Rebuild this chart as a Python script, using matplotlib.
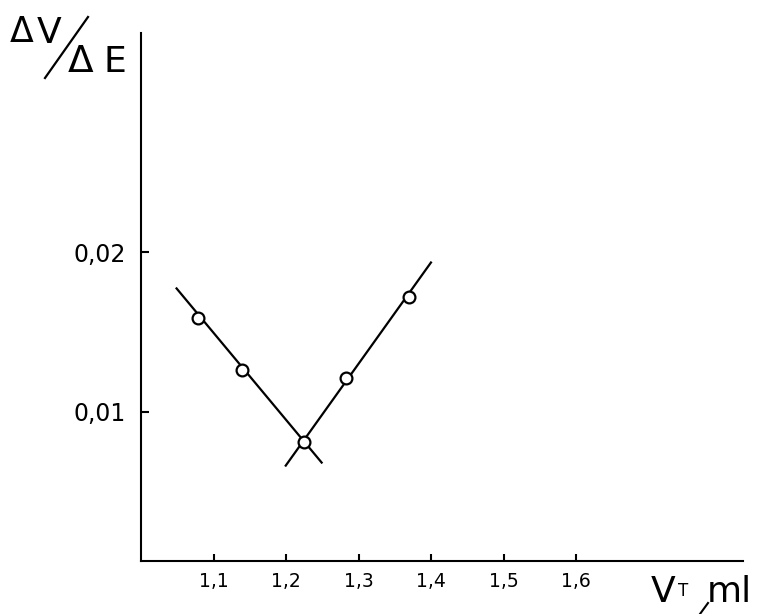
import matplotlib.pyplot as plt
from matplotlib.lines import Line2D

# measured points: titrant volume (ml) vs dV/dE
volumes = [1.078, 1.139, 1.224, 1.283, 1.370]
slopes = [0.01585, 0.01258, 0.00811, 0.01208, 0.01717]

# the two straight branches drawn through the points
left_x = [1.049, 1.249]
left_y = [0.01774, 0.00679]
right_x = [1.1995, 1.3997]
right_y = [0.0066, 0.01937]

x_ticks = [1.1, 1.2, 1.3, 1.4, 1.5, 1.6]
x_labels = ['1,1', '1,2', '1,3', '1,4', '1,5', '1,6']
y_ticks = [0.01, 0.02]
y_labels = ['0,01', '0,02']

fig = plt.figure(figsize=(7.57, 6.14), dpi=100)
ax = fig.add_axes([0.1863, 0.0863, 0.7953, 0.8599])

ax.plot(left_x, left_y, color='black', lw=1.6, zorder=2)
ax.plot(right_x, right_y, color='black', lw=1.6, zorder=2)
ax.plot(volumes, slopes, 'o', ms=8.5, mfc='white', mec='black', mew=1.6,
        zorder=3, clip_on=False)

ax.set_xlim(1.0, 1.83)
ax.set_ylim(0.0006, 0.0338)

for side in ['top', 'right']:
    ax.spines[side].set_visible(False)
for side in ['left', 'bottom']:
    ax.spines[side].set_linewidth(1.5)

ax.set_xticks(x_ticks)
ax.set_xticklabels(x_labels, fontsize=13.5)
ax.set_yticks(y_ticks)
ax.set_yticklabels(y_labels, fontsize=17)
ax.tick_params(axis='x', direction='in', length=5, width=1.5, pad=8)
ax.tick_params(axis='y', direction='in', length=6, width=1.5, pad=11)

# axis names
fig.text(10 / 757, 1 - 42 / 614, '\u0394', fontsize=25, ha='left', va='baseline')
fig.text(37 / 757, 1 - 43 / 614, 'V', fontsize=26, ha='left', va='baseline')
fig.lines.append(Line2D([45 / 757, 88 / 757], [1 - 78 / 614, 1 - 17 / 614],
                        transform=fig.transFigure, color='black', lw=1.6))
fig.text(68 / 757, 1 - 72 / 614, '\u0394', fontsize=27, ha='left', va='baseline')
fig.text(103 / 757, 1 - 72 / 614, 'E', fontsize=26, ha='left', va='baseline')

fig.text(651 / 757, 1 - 602 / 614, 'V', fontsize=26, ha='left', va='baseline')
fig.text(678 / 757, 1 - 596 / 614, 'T', fontsize=12, ha='left', va='baseline')
fig.lines.append(Line2D([700 / 757, 708 / 757], [1 - 614 / 614, 1 - 603 / 614],
                        transform=fig.transFigure, color='black', lw=1.5))
fig.text(707 / 757, 1 - 602 / 614, 'ml', fontsize=26, ha='left', va='baseline')

fig.savefig('out.png', dpi=100)
